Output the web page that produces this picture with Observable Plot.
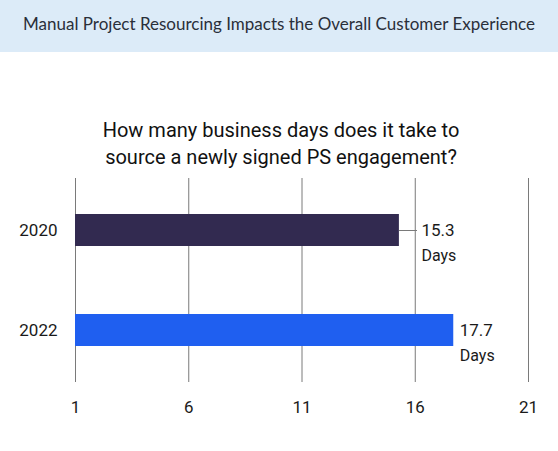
<!DOCTYPE html>
<html>
<head>
<meta charset="utf-8">
<script src="https://cdn.jsdelivr.net/npm/d3@7"></script>
<script src="https://cdn.jsdelivr.net/npm/@observablehq/plot@0.6"></script>
<style>
  body { margin: 0; background: white; }
  #header {
    height: 52px;
    background: #dcebf8;
    font-family: Lato, sans-serif;
    font-size: 17px;
    color: #2a2f3a;
    text-align: center;
    line-height: 48px;
  }
</style>
</head>
<body>
<div id="header">Manual Project Resourcing Impacts the Overall Customer Experience</div>
<div id="chart"></div>
<script>
const years = ["2020", "2022"]
const days = [15.3, 17.7]
const xTicks = [1, 6, 11, 16, 21]
const unit = "Days"
const question = "How many business days does it take to\nsource a newly signed PS engagement?"

const data = years.map((y, i) => ({year: y, value: days[i]}))
const first = data.filter(d => d.year == "2020")
const second = data.filter(d => d.year == "2022")

// value label + "Days" under it
const valueLabel = (rows, dx) => [
  Plot.text(rows, {y: "year", x: "value", text: d => d.value.toFixed(1),
    textAnchor: "start", dx: dx, fontSize: 17, fill: "#1a1a1a"}),
  Plot.text(rows, {y: "year", x: "value", text: () => unit,
    textAnchor: "start", dx: dx, dy: 25, fontSize: 16, fill: "#1a1a1a"})
]

let chart = Plot.plot({
  width: 558,
  height: 399,
  marginLeft: 75,
  marginRight: 30,
  marginTop: 126,
  marginBottom: 69,
  style: {fontFamily: "Roboto, sans-serif", fontSize: "16px", color: "#1a1a1a", background: "white"},
  x: {domain: [xTicks[0], xTicks[xTicks.length - 1]]},
  y: {domain: years, paddingInner: 0.68, paddingOuter: 0.35},
  color: {domain: years, range: ["#322a50", "#1f5ff0"]},
  marks: [
    Plot.ruleX(xTicks, {stroke: "#7a7a7a", strokeWidth: 1}),
    Plot.barX(data, {y: "year", x1: xTicks[0], x2: "value", fill: "year"}),
    // short leader line, the 2020 label sits past the 16 gridline
    Plot.ruleY(first, {y: "year", x1: "value", x2: d => d.value + 0.8, stroke: "#7a7a7a", strokeWidth: 1}),
    valueLabel(first, 22),
    valueLabel(second, 6),
    Plot.axisX(xTicks, {tickSize: 0, tickPadding: 18, fontSize: 17, fill: "#1a1a1a", label: null}),
    Plot.axisY({tickSize: 0, tickPadding: 18, fontSize: 17, fill: "#1a1a1a", label: null}),
    Plot.text([question], {frameAnchor: "top", dy: -36.5, dx: -21, lineHeight: 1.35, lineAnchor: "middle", fontSize: 20, fill: "#111"})
  ]
})

d3.select('#chart').append(() => chart)
</script>
</body>
</html>
